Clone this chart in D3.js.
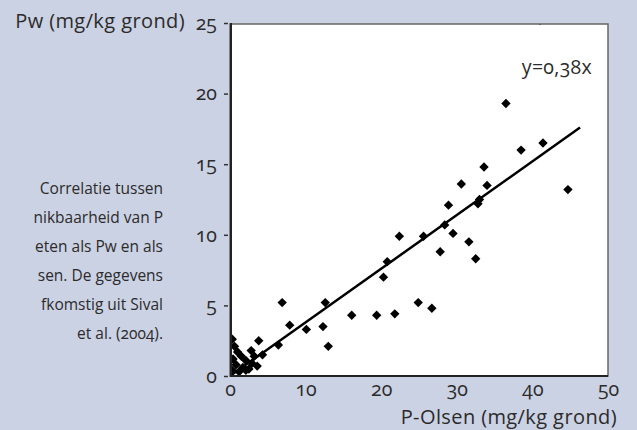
<!DOCTYPE html>
<meta charset="utf-8">
<style>
    body { margin: 0; background: #cbd2e4; }
    svg { display: block; }
    text { font-family: 'Open Sans', sans-serif; fill: #2b2b2b;
           font-variant-numeric: oldstyle-nums; }
    .tick-label { font-size: 19.5px; }
    .title { font-size: 20px; letter-spacing: 0.4px; }
    .caption { font-size: 15.5px; }
    .fit-label { font-size: 19.5px; letter-spacing: 0.3px; }
    .point { fill: #000; }
    .fit-line { stroke: #000; stroke-width: 2.5px; fill: none; }
    .frame { fill: #fff; stroke: #666; stroke-width: 1.5px; }
    .main-axis { stroke: #222; stroke-width: 2px; }
</style>
<body>
<div id="chart"></div>
<script src="https://cdn.jsdelivr.net/npm/d3@7"></script>
<script>
    // P-Olsen (x) and Pw (y)
    var pOlsen = [0.3, 0.6, 1.0, 0.4, 0.8, 0.3, 1.7, 2.1, 1.5, 2.5, 2.1, 2.8, 3.2, 3.8, 4.3, 3.6, 1.2, 2.9,
                  6.4, 6.9, 7.9, 10.1, 12.3, 12.6, 13.0, 16.1, 19.4, 21.8, 20.3, 20.8, 22.4, 24.9, 25.6,
                  26.7, 27.8, 28.4, 28.9, 29.5, 30.6, 31.6, 32.5, 32.8, 33.0, 33.6, 34.0, 36.5, 38.5,
                  41.4, 44.7, 41.0];
    var pw = [2.6, 2.1, 1.7, 1.2, 0.8, 0.4, 0.6, 1.1, 1.4, 0.5, 0.4, 1.8, 1.4, 2.5, 1.5, 0.7, 0.3, 0.9,
              2.2, 5.2, 3.6, 3.3, 3.5, 5.2, 2.1, 4.3, 4.3, 4.4, 7.0, 8.1, 9.9, 5.2, 9.9,
              4.8, 8.8, 10.7, 12.1, 10.1, 13.6, 9.5, 8.3, 12.2, 12.5, 14.8, 13.5, 19.3, 16.0,
              16.5, 13.2, 25.2];
    var slope = 0.38;
    var fitEnd = 46.3;
    var xTicks = [0, 10, 20, 30, 40, 50];
    var yTicks = [0, 5, 10, 15, 20, 25];
    var captionLines = ["Correlatie tussen", "nikbaarheid van P", "eten als Pw en als",
                        "sen. De gegevens", "fkomstig uit Sival", "et al. (2004)."];

    var width = 637,
        height = 430;

    var plot_left = 230,
        plot_right = 608,
        plot_top = 23,
        plot_bottom = 376;

    var svg = d3.select("#chart").append("svg")
        .attr("width", width)
        .attr("height", height);

    var x = d3.scaleLinear().domain([0, 50]).range([plot_left, plot_right]);
    var y = d3.scaleLinear().domain([0, 25]).range([plot_bottom, plot_top]);

    svg.append("rect")
        .attr("class", "frame")
        .attr("x", plot_left)
        .attr("y", plot_top + 1)
        .attr("width", plot_right - plot_left)
        .attr("height", plot_bottom - plot_top - 1);

    svg.append("clipPath").attr("id", "clip")
        .append("rect")
        .attr("x", plot_left)
        .attr("y", plot_top + 1)
        .attr("width", plot_right - plot_left)
        .attr("height", plot_bottom - plot_top - 1);

    var plot = svg.append("g").attr("clip-path", "url(#clip)");

    var points = d3.range(pOlsen.length).map(i => ({x: pOlsen[i], y: pw[i]}));

    plot.selectAll(".point")
        .data(points)
        .enter().append("path")
        .attr("class", "point")
        .attr("d", d3.symbol().type(d3.symbolSquare).size(44))
        .attr("transform", d => "translate(" + x(d.x) + "," + y(d.y) + ") rotate(45)");

    plot.append("line")
        .attr("class", "fit-line")
        .attr("x1", x(0)).attr("y1", y(0))
        .attr("x2", x(fitEnd)).attr("y2", y(slope * fitEnd));

    // dark left and bottom axes
    svg.append("line").attr("class", "main-axis")
        .attr("x1", plot_left + 1).attr("x2", plot_left + 1)
        .attr("y1", plot_top).attr("y2", plot_bottom + 1);
    svg.append("line").attr("class", "main-axis")
        .attr("x1", plot_left).attr("x2", plot_right)
        .attr("y1", plot_bottom).attr("y2", plot_bottom);

    var yAxis = svg.append("g")
        .attr("transform", "translate(" + (plot_left - 2) + ",0)")
        .call(d3.axisLeft(y).tickValues(yTicks).tickSize(4).tickPadding(7).tickFormat(d3.format("d")));
    yAxis.select(".domain").remove();
    yAxis.selectAll("line").attr("stroke", "#333").attr("stroke-width", 1.5);
    yAxis.selectAll("text").attr("class", "tick-label").attr("fill", null);

    var xAxis = svg.append("g")
        .attr("transform", "translate(0," + plot_bottom + ")")
        .call(d3.axisBottom(x).tickValues(xTicks).tickSize(0).tickPadding(6).tickFormat(d3.format("d")));
    xAxis.select(".domain").remove();
    xAxis.selectAll("text").attr("class", "tick-label").attr("fill", null);
    svg.selectAll("g").attr("font-size", null).attr("font-family", null);

    svg.append("text")
        .attr("class", "title")
        .attr("x", 185).attr("y", 28)
        .attr("text-anchor", "end")
        .text("Pw (mg/kg grond)");

    svg.append("text")
        .attr("class", "title")
        .attr("x", 617).attr("y", 424)
        .attr("text-anchor", "end")
        .text("P-Olsen (mg/kg grond)");

    svg.append("text")
        .attr("class", "fit-label")
        .attr("x", 592).attr("y", 74)
        .attr("text-anchor", "end")
        .text("y=0,38x");

    svg.selectAll(".caption")
        .data(captionLines)
        .enter().append("text")
        .attr("class", "caption")
        .attr("x", 163)
        .attr("y", (d, i) => 194 + i * 29)
        .attr("text-anchor", "end")
        .text(d => d);
</script>
</body>
